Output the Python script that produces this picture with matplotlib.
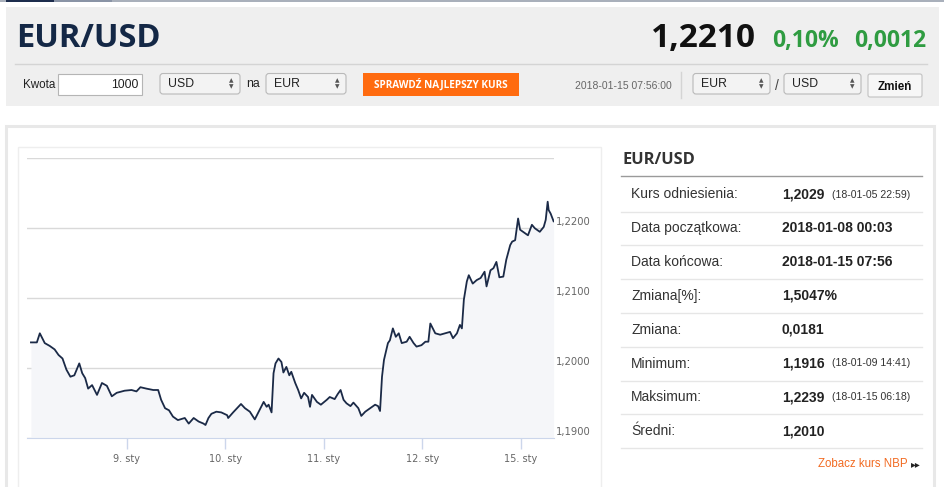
import matplotlib
matplotlib.use("Agg")
import matplotlib.pyplot as plt
from matplotlib.patches import Rectangle, FancyBboxPatch
from matplotlib.transforms import blended_transform_factory, offset_copy

#%% Data

# trading days since 8 Jan 2018 00:00 (weekend removed on the axis)
days = [0.03, 0.09, 0.12, 0.17, 0.22, 0.27, 0.31, 0.35, 0.39, 0.43, 0.47, 0.52, 0.55,
        0.58, 0.61, 0.65, 0.70, 0.75, 0.80, 0.85, 0.90, 0.98, 1.05, 1.10, 1.14, 1.20,
        1.27, 1.32, 1.35, 1.39, 1.43, 1.47, 1.52, 1.59, 1.63, 1.68, 1.73, 1.78, 1.80,
        1.83, 1.86, 1.91, 1.96, 2.02, 2.03, 2.08, 2.12, 2.16, 2.20, 2.25, 2.30, 2.34,
        2.39, 2.42, 2.44, 2.47, 2.49, 2.51, 2.54, 2.57, 2.59, 2.62, 2.65, 2.67, 2.71,
        2.74, 2.77, 2.80, 2.84, 2.86, 2.88, 2.93, 2.97, 3.03, 3.06, 3.11, 3.14, 3.17,
        3.20, 3.23, 3.27, 3.30, 3.35, 3.38, 3.42, 3.47, 3.52, 3.55, 3.57, 3.59, 3.61,
        3.65, 3.67, 3.70, 3.73, 3.76, 3.79, 3.84, 3.87, 3.91, 3.94, 3.99, 4.03, 4.06,
        4.08, 4.13, 4.18, 4.23, 4.28, 4.31, 4.35, 4.38, 4.40, 4.42, 4.45, 4.47, 4.51,
        4.55, 4.59, 4.63, 4.65, 4.69, 4.72, 4.75, 4.78, 4.82, 4.85, 4.89, 4.91, 4.94,
        4.97, 4.99, 5.02, 5.07, 5.11, 5.14, 5.19, 5.23, 5.25, 5.27, 5.28, 5.30, 5.33]
rates = [1.2037, 1.2037, 1.2050, 1.2036, 1.2032, 1.2027, 1.2019, 1.2014, 1.1998, 1.1988,
         1.1990, 1.2007, 1.1993, 1.1986, 1.1971, 1.1976, 1.1962, 1.1979, 1.1975, 1.1960,
         1.1965, 1.1968, 1.1969, 1.1967, 1.1973, 1.1971, 1.1969, 1.1969, 1.1955, 1.1943,
         1.1940, 1.1931, 1.1926, 1.1929, 1.1921, 1.1929, 1.1924, 1.1921, 1.1919, 1.1929,
         1.1935, 1.1938, 1.1937, 1.1933, 1.1929, 1.1937, 1.1943, 1.1949, 1.1943, 1.1938,
         1.1927, 1.1938, 1.1952, 1.1945, 1.1948, 1.1937, 1.1993, 1.2007, 1.2014, 1.2009,
         1.1994, 1.2002, 1.1990, 1.1995, 1.1979, 1.1969, 1.1957, 1.1965, 1.1959, 1.1945,
         1.1962, 1.1952, 1.1948, 1.1955, 1.1959, 1.1956, 1.1963, 1.1969, 1.1955, 1.1950,
         1.1946, 1.1951, 1.1943, 1.1932, 1.1938, 1.1943, 1.1948, 1.1946, 1.1939, 1.1988,
         1.2012, 1.2036, 1.2040, 1.2057, 1.2045, 1.2050, 1.2036, 1.2038, 1.2045, 1.2036,
         1.2031, 1.2033, 1.2038, 1.2038, 1.2064, 1.2050, 1.2048, 1.2050, 1.2052, 1.2043,
         1.2050, 1.2062, 1.2057, 1.2098, 1.2124, 1.2133, 1.2121, 1.2126, 1.2129, 1.2138,
         1.2117, 1.2140, 1.2143, 1.2152, 1.2130, 1.2131, 1.2155, 1.2176, 1.2181, 1.2183,
         1.2214, 1.2198, 1.2195, 1.2190, 1.2205, 1.2200, 1.2195, 1.2202, 1.2212, 1.2238,
         1.2226, 1.2221, 1.2210]

day_ticks = [1, 2, 3, 4, 5]
day_labels = ["9. sty", "10. sty", "11. sty", "12. sty", "15. sty"]
rate_grid = [1.19, 1.20, 1.21, 1.22, 1.23]
rate_labels = ["1,1900", "1,2000", "1,2100", "1,2200", ""]

pair = "EUR/USD"
last_rate = "1,2210"
change_pct = "0,10%"
change_abs = "0,0012"
quote_time = "2018-01-15 07:56:00"

stat_labels = ["Kurs odniesienia:", "Data początkowa:", "Data końcowa:", "Zmiana[%]:",
               "Zmiana:", "Minimum:", "Maksimum:", "Średni:"]
stat_values = ["1,2029", "2018-01-08 00:03", "2018-01-15 07:56", "1,5047%",
               "0,0181", "1,1916", "1,2239", "1,2010"]
stat_notes = ["(18-01-05 22:59)", "", "", "", "", "(18-01-09 14:41)", "(18-01-15 06:18)", ""]

#%% Page

ARIAL = ["Liberation Sans", "DejaVu Sans"]
OPEN = ["Open Sans", "DejaVu Sans"]
NAVY = "#142846"
GREEN = "#2f9c41"
ORANGE = "#ff6b0f"

W, H = 945, 487
fig = plt.figure(figsize=(W / 100, H / 100), dpi=100)
bg = fig.add_axes([0, 0, 1, 1])
bg.set_xlim(0, W)
bg.set_ylim(H, 0)
bg.axis("off")


def box(x0, y0, x1, y1, fc, ec="none", lw=1, r=0, z=1):
    if r:
        p = FancyBboxPatch((x0, y0), x1 - x0, y1 - y0, boxstyle=f"round,pad=0,rounding_size={r}",
                           fc=fc, ec=ec, lw=lw, zorder=z)
    else:
        p = Rectangle((x0, y0), x1 - x0, y1 - y0, fc=fc, ec=ec, lw=lw, zorder=z)
    bg.add_patch(p)


def select(x0, x1, label):
    box(x0, 73.5, x1, 94, "#f3f3f3", "#b9b9b9", 0.8, r=3)
    bg.text(x0 + 8, 84, label, family=ARIAL, fontsize=8.8, color="#222", va="center", zorder=3)
    bg.text(x1 - 9, 81, "▲", family=["DejaVu Sans"], fontsize=4.2, color="#555",
            ha="center", va="center", zorder=3)
    bg.text(x1 - 9, 87, "▼", family=["DejaVu Sans"], fontsize=4.2, color="#555",
            ha="center", va="center", zorder=3)


# top strip
box(0, 0, W, 2, "#a9b0bb")
box(6, 0, 54, 2, "#1d2d4d")
box(54, 0, 112, 2, "#8a94a6")

# header panel
box(6, 7, 939, 106, "#efefef")
bg.plot([15, 927], [64, 64], color="#d4d4d4", lw=1)
bg.text(16, 47, pair, family=OPEN, fontweight="bold", fontsize=23.5, color=NAVY, va="baseline")
bg.text(756, 47, last_rate, family=OPEN, fontweight="bold", fontsize=24, color="#111",
        ha="right", va="baseline")
bg.text(772, 47, change_pct, family=OPEN, fontweight="bold", fontsize=16.5, color=GREEN, va="baseline")
bg.text(926, 47, change_abs, family=OPEN, fontweight="bold", fontsize=16.5, color=GREEN,
        ha="right", va="baseline")

# form row
bg.text(23, 85, "Kwota", family=ARIAL, fontsize=8.4, color="#222", va="center")
box(58, 74, 142, 94.5, "white", "#b5b5b5", 0.8, z=2)
bg.text(138, 85, "1000", family=ARIAL, fontsize=8.8, color="#222", ha="right", va="center", zorder=3)
select(160, 240, "USD")
bg.text(246, 84, "na", family=ARIAL, fontsize=8.8, color="#222", va="center")
select(266, 346, "EUR")
box(363, 72.5, 519, 95.5, ORANGE, z=2)
bg.text(441, 84.5, "SPRAWDŹ NAJLEPSZY KURS", family=OPEN, fontweight="bold", fontsize=7.2,
        color="white", ha="center", va="center", zorder=3)
bg.text(575, 86, quote_time, family=ARIAL, fontsize=7.5, color="#666", va="center")
bg.plot([681, 681], [72, 98], color="#d4d4d4", lw=1)
select(693, 770, "EUR")
bg.text(777, 86, "/", family=ARIAL, fontsize=10, color="#444", ha="center", va="center")
select(784, 861, "USD")
box(868, 74, 922, 97, "#f7f7f7", "#c2c2c2", 0.8, r=2, z=2)
bg.text(895, 86.5, "Zmień", family=ARIAL, fontweight="bold", fontsize=8.4, color="#111",
        ha="center", va="center", zorder=3)

# lower panel frames
box(6, 125.5, 934, 520, "white", "#e8e8e8", 2.2)
box(18, 147, 601, 520, "white", "#eeeeee", 1, z=1.5)

# right info table
bg.text(622, 159.5, pair, family=OPEN, fontweight="bold", fontsize=11.8, color="#333", va="center")
bg.plot([621, 922], [176, 176], color="#9a9a9a", lw=1)
for i, (lab, val, note) in enumerate(zip(stat_labels, stat_values, stat_notes)):
    yc = 194.5 + i * 33.8
    bg.text(631, yc, lab, family=ARIAL, fontsize=10, color="#333", va="center")
    bg.text(782, yc, val, family=ARIAL, fontweight="bold", fontsize=10, color="#222", va="center")
    if note:
        bg.text(832, yc, note, family=ARIAL, fontsize=7.6, color="#333", va="center")
    bg.plot([621, 922], [yc + 17, yc + 17], color="#e6e6e6", lw=1)
bg.text(908, 464, "Zobacz kurs NBP", family=ARIAL, fontsize=8.3, color="#f26b22",
        ha="right", va="center")
bg.text(911, 464.5, "▸▸", family=["DejaVu Sans"], fontsize=7, color="#222", va="center")

#%% Chart

x0, x1, ybot, ytop = 27, 553.6, 438.3, 158.3
ax = fig.add_axes([x0 / W, 1 - ybot / H, (x1 - x0) / W, (ybot - ytop) / H])
ax.set_facecolor("none")
ax.set_xlim(-0.01, 5.33)
ax.set_ylim(rate_grid[0], rate_grid[-1])

ax.fill_between(days, rates, rate_grid[0], color="#f5f6f9", lw=0, zorder=1)
ax.plot(days, rates, color="#1b2a47", lw=1.3, zorder=3)

ax.set_yticks(rate_grid)
ax.grid(axis="y", color="#d9d9d9", lw=1)
ax.set_axisbelow(True)
ax.tick_params(axis="y", left=False, right=False, labelleft=False)
for s in ["top", "left", "right"]:
    ax.spines[s].set_visible(False)
ax.spines["bottom"].set_color("#ccd6eb")
ax.spines["bottom"].set_zorder(4)

ax.set_xticks(day_ticks)
ax.set_xticklabels(day_labels, family=["DejaVu Sans"], fontsize=7, color="#666")
ax.tick_params(axis="x", direction="out", length=8, width=1, color="#ccd6eb", pad=3)

ylab_tr = offset_copy(blended_transform_factory(ax.transAxes, ax.transData), fig=fig,
                      y=6, units="dots")
for v, lab in zip(rate_grid, rate_labels):
    ax.text(1.005, v, lab, transform=ylab_tr, family=["DejaVu Sans"], fontsize=7.2,
            color="#666", ha="left", va="center", clip_on=False)

fig.savefig("out.png", dpi=100)
